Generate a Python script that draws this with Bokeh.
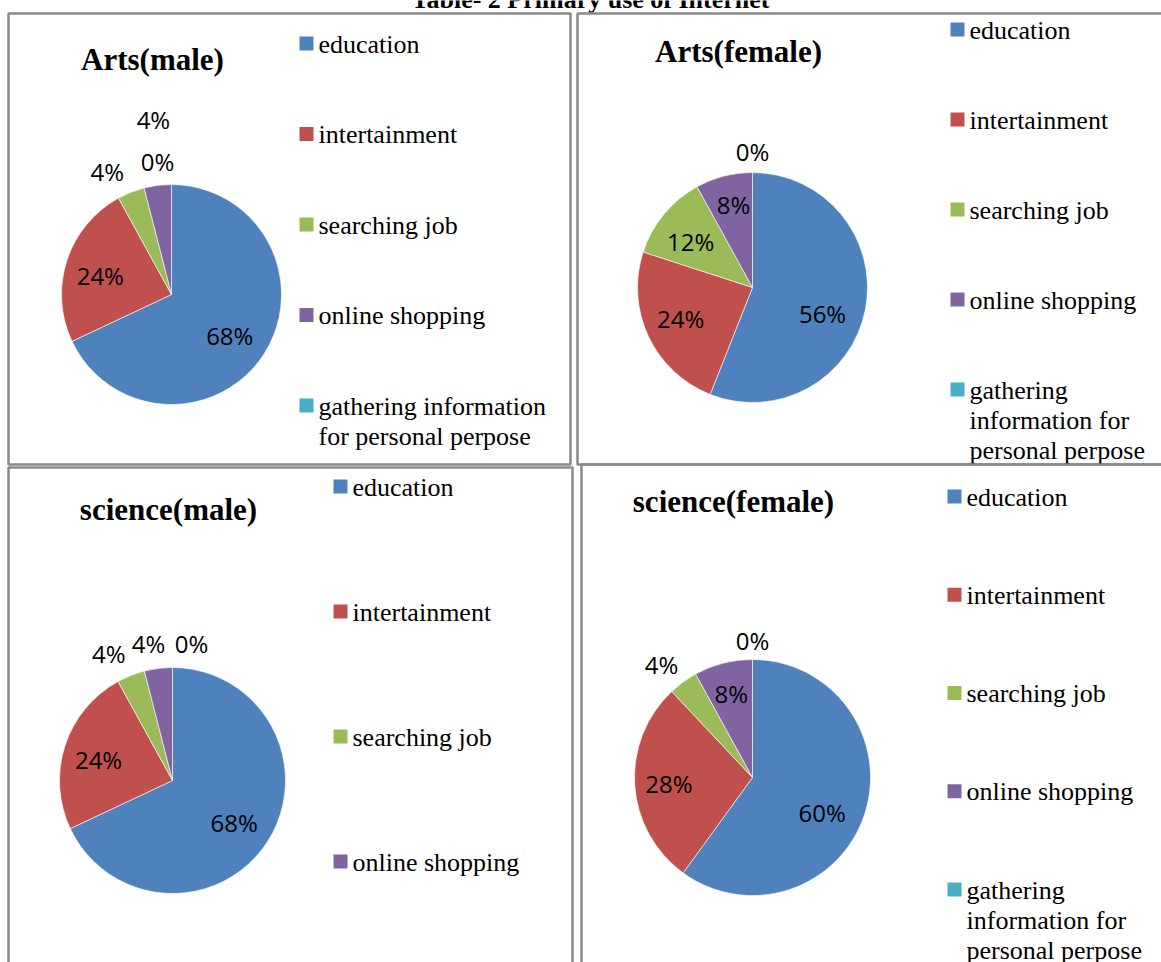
import math
import textwrap

from bokeh.core.properties import value
from bokeh.embed import file_html
from bokeh.models import ColumnDataSource, Range1d
from bokeh.plotting import figure
from bokeh.resources import INLINE

# ---- data -------------------------------------------------------------
main_title = "Table- 2 Primary use of Internet"
categories = [
    "education",
    "intertainment",
    "searching job",
    "online shopping",
    "gathering information for personal perpose",
]
colors = ["#4F81BD", "#C0504D", "#9BBB59", "#8064A2", "#4BACC6"]

panel_titles = ["Arts(male)", "Arts(female)", "science(male)", "science(female)"]
arts_male = [68, 24, 4, 4, 0]
arts_female = [56, 24, 12, 8, 0]
science_male = [68, 24, 4, 4, 0]
science_female = [60, 28, 4, 8, 0]
panel_values = [arts_male, arts_female, science_male, science_female]

# ---- layout (page pixels, y measured downward) ------------------------
W, H = 1161, 962
layout = [
    dict(box=(8, 13, 570, 464), center=(171, 294), radius=110, title_at=(152, 70),
         legend_left=299, legend_top=36, legend_step=90.5, legend_rows=5, wrap=22,
         labels=[(0.65, 3), (0.67, -3), (1.26, -6), (1.6, 1.3), (1.22, -6)]),
    dict(box=(577, 13, 1175, 464), center=(752, 287), radius=115, title_at=(738, 62),
         legend_left=950, legend_top=22, legend_step=90, legend_rows=5, wrap=16,
         labels=[(0.65, 9.6), (0.68, 2), (0.67, -3), (0.74, 1.5), (1.18, 0)]),
    dict(box=(8, 467, 572, 980), center=(172, 780), radius=113, title_at=(168, 520),
         legend_left=333, legend_top=479, legend_step=125, legend_rows=4, wrap=22,
         labels=[(0.66, 1.7), (0.68, -2.2), (1.26, -5), (1.23, -2.7), (1.22, 7.9)]),
    dict(box=(581, 464, 1175, 980), center=(752, 777), radius=118, title_at=(733, 512),
         legend_left=947, legend_top=489, legend_step=98.25, legend_rows=5, wrap=16,
         labels=[(0.66, 8.6), (0.71, -0.5), (1.23, -2.8), (0.73, 0.2), (1.16, 0)]),
]

# the serif baseline sits a little lower than requested; lift it by this share of the size
BASELINE_LIFT = 0.36


def Y(y):
    """Page y (downward) to data y (upward)."""
    return H - y


p = figure(
    width=W, height=H,
    x_range=Range1d(0, W), y_range=Range1d(0, H),
    x_axis_type=None, y_axis_type=None,
    toolbar_location=None, output_backend="svg",
    min_border=0, outline_line_color=None,
    background_fill_color="white", border_fill_color="white",
)
p.xgrid.visible = False
p.ygrid.visible = False

SERIF = value("Liberation Serif")
SANS = value("Open Sans")


def serif_text(xs, ys, texts, size, bold=False, align="left"):
    lift = BASELINE_LIFT * size
    p.text(x=xs, y=[Y(y - lift) for y in ys], text=texts, text_font=SERIF,
           text_font_size=value(f"{size}px"),
           text_font_style="bold" if bold else "normal",
           text_align=align, text_baseline="alphabetic", text_color="black")


# page title (partly above the top edge)
serif_text([590], [8], [main_title], 26, bold=True, align="center")

for title, vals, lay in zip(panel_titles, panel_values, layout):
    l, t, r, b = lay["box"]
    p.quad(left=[l], right=[r], top=[Y(t)], bottom=[Y(b)], fill_color=None,
           line_color="#8a8a8a", line_width=2.5)

    # panel title
    tx, ty = lay["title_at"]
    serif_text([tx], [ty], [title], 31, bold=True, align="center")

    # pie slices, clockwise from 12 o'clock
    cx, cy = lay["center"]
    R = lay["radius"]
    total = float(sum(vals))
    starts, ends, mids = [], [], []
    acc = 0.0
    for v in vals:
        f0 = acc / total
        acc += v
        f1 = acc / total
        starts.append(math.pi / 2 - 2 * math.pi * f0)
        ends.append(math.pi / 2 - 2 * math.pi * f1)
        mids.append(180.0 * (f0 + f1))  # degrees clockwise from top
    keep = [i for i, v in enumerate(vals) if v > 0]
    wedge_src = ColumnDataSource(dict(
        start=[starts[i] for i in keep], end=[ends[i] for i in keep],
        color=[colors[i] for i in keep],
    ))
    p.wedge(x=cx, y=Y(cy), radius=R, start_angle="start", end_angle="end",
            direction="clock", fill_color="color", line_color="white",
            line_width=0.6, source=wedge_src)

    # percentage labels
    lx, ly, lt = [], [], []
    for v, m, (rf, nudge) in zip(vals, mids, lay["labels"]):
        a = math.radians(m + nudge)
        lx.append(cx + rf * R * math.sin(a))
        ly.append(Y(cy - rf * R * math.cos(a)))
        lt.append(f"{v}%")
    p.text(x=lx, y=ly, text=lt, text_font=SANS, text_font_size=value("24px"),
           text_align="center", text_baseline="middle", text_color="black")

    # legend
    sq = 14
    sx = lay["legend_left"]
    sq_x, sq_y, sq_c = [], [], []
    tx_, ty_, tt_ = [], [], []
    for i in range(lay["legend_rows"]):
        top = lay["legend_top"] + i * lay["legend_step"]
        sq_x.append(sx + sq / 2)
        sq_y.append(Y(top + sq / 2))
        sq_c.append(colors[i])
        for j, line in enumerate(textwrap.wrap(categories[i], lay["wrap"])):
            tx_.append(sx + 19)
            ty_.append(top + 17 + j * 30)
            tt_.append(line)
    p.rect(x=sq_x, y=sq_y, width=sq, height=sq, fill_color=sq_c, line_color=None)
    serif_text(tx_, ty_, tt_, 26)

open("out.html", "w").write(file_html(p, INLINE))
